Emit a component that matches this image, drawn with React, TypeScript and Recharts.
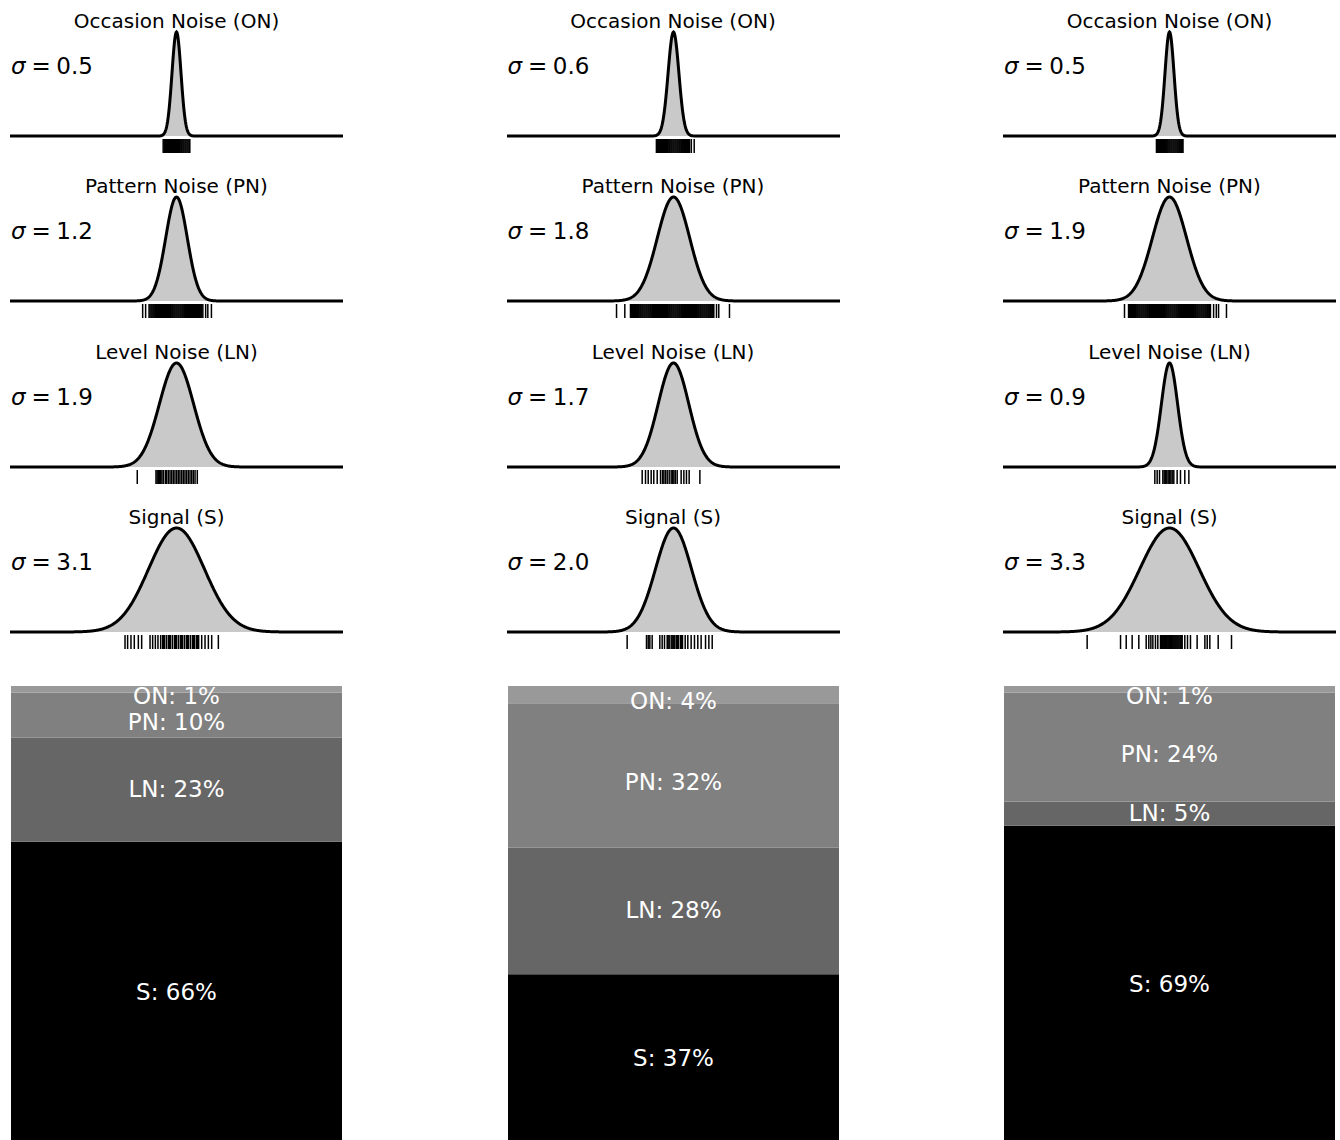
import React from "react";
import { ComposedChart, Area, Scatter, XAxis, YAxis, BarChart, Bar, LabelList } from "recharts";

// ---------- data ----------
const ROW_KEYS = ["ON", "PN", "LN", "S"];
const ROW_TITLES = ["Occasion Noise (ON)", "Pattern Noise (PN)", "Level Noise (LN)", "Signal (S)"];

const SIGMA_A = [0.5, 1.2, 1.9, 3.1];
const SIGMA_B = [0.6, 1.8, 1.7, 2.0];
const SIGMA_C = [0.5, 1.9, 0.9, 3.3];

// variance shares (%) in order ON, PN, LN, S
const SHARE_A = [1.4, 9.9, 22.8, 65.9];
const SHARE_B = [3.8, 31.6, 27.7, 36.9];
const SHARE_C = [1.4, 23.9, 5.3, 69.4];

// rug samples
const RUG_A_ON = [-1.48, -1.36, -1.25, -1.13, -1.02, -0.9, -0.79, -0.67, -0.56, -0.44, -0.33, -0.21, -0.1, 0.02, 0.13, 0.25, 0.36, 0.48, 0.59, 0.71, 0.82, 0.94, 1.05, 1.17, 1.28, 1.4, 1.48];
const RUG_A_PN = [-3.76, -3.43, -3.05, -2.94, -2.82, -2.71, -2.59, -2.48, -2.36, -2.25, -2.13, -2.02, -1.9, -1.79, -1.67, -1.56, -1.44, -1.33, -1.21, -1.1, -0.98, -0.87, -0.75, -0.64, -0.52, -0.41, -0.29, -0.18, -0.06, 0.05, 0.17, 0.28, 0.4, 0.51, 0.63, 0.74, 0.86, 0.97, 1.09, 1.2, 1.32, 1.43, 1.55, 1.66, 1.78, 1.89, 2.01, 2.12, 2.24, 2.35, 2.47, 2.58, 2.7, 2.81, 2.93, 3.24, 3.48, 3.88];
const RUG_A_LN = [-4.36, -2.28, -2.15, -2.02, -1.89, -1.76, -1.62, -1.46, -1.24, -1.1, -0.91, -0.72, -0.54, -0.36, -0.17, 0.02, 0.2, 0.38, 0.57, 0.75, 0.94, 1.12, 1.31, 1.5, 1.69, 1.87, 2.06, 2.31];
const RUG_A_S = [-5.72, -5.43, -5.06, -4.69, -4.24, -3.87, -2.94, -2.65, -2.35, -2.06, -1.76, -1.54, -1.45, -1.31, -1.09, -0.87, -0.8, -0.65, -0.43, -0.2, -0.1, 0.02, 0.24, 0.46, 0.55, 0.69, 0.91, 1.13, 1.2, 1.35, 1.57, 1.8, 1.9, 2.02, 2.24, 2.35, 2.46, 2.8, 3.17, 3.54, 3.91, 4.65];

const RUG_B_ON = [-1.9, -1.79, -1.67, -1.56, -1.44, -1.33, -1.21, -1.1, -0.98, -0.87, -0.75, -0.64, -0.52, -0.41, -0.29, -0.18, -0.06, 0.05, 0.17, 0.28, 0.4, 0.51, 0.63, 0.74, 0.86, 0.97, 1.09, 1.2, 1.32, 1.43, 1.55, 1.66, 1.78, 1.98, 2.3];
const RUG_B_PN = [-6.33, -5.41, -4.78, -4.66, -4.55, -4.43, -4.32, -4.2, -4.09, -3.97, -3.86, -3.74, -3.63, -3.51, -3.4, -3.28, -3.17, -3.05, -2.94, -2.82, -2.71, -2.59, -2.48, -2.36, -2.25, -2.13, -2.02, -1.9, -1.79, -1.67, -1.56, -1.44, -1.33, -1.21, -1.1, -0.98, -0.87, -0.75, -0.64, -0.52, -0.41, -0.29, -0.18, -0.06, 0.05, 0.17, 0.28, 0.4, 0.51, 0.63, 0.74, 0.86, 0.97, 1.09, 1.2, 1.32, 1.43, 1.55, 1.66, 1.78, 1.89, 2.01, 2.12, 2.24, 2.35, 2.47, 2.58, 2.7, 2.81, 2.93, 3.04, 3.16, 3.27, 3.39, 3.5, 3.62, 3.73, 3.85, 3.96, 4.08, 4.19, 4.31, 4.42, 4.48, 4.78, 5.03, 6.22];
const RUG_B_LN = [-3.48, -3.11, -2.81, -2.48, -2.19, -1.81, -1.44, -1.22, -1.07, -0.89, -0.7, -0.48, -0.26, -0.1, 0.04, 0.2, 0.41, 0.85, 1.15, 1.44, 1.74, 2.93];
const RUG_B_S = [-5.15, -3.0, -2.81, -2.63, -2.37, -1.52, -1.26, -1.0, -0.7, -0.6, -0.48, -0.26, -0.15, -0.04, 0.05, 0.15, 0.33, 0.45, 0.56, 0.78, 0.9, 1.0, 1.3, 1.59, 1.96, 2.33, 2.7, 3.07, 3.56, 3.93, 4.3];

const RUG_C_ON = [-1.45, -1.34, -1.22, -1.11, -0.99, -0.88, -0.76, -0.65, -0.53, -0.42, -0.3, -0.19, -0.07, 0.04, 0.16, 0.27, 0.39, 0.5, 0.62, 0.73, 0.85, 0.96, 1.08, 1.19, 1.31, 1.42, 1.5];
const RUG_C_PN = [-5.0, -4.55, -4.44, -4.32, -4.21, -4.09, -3.98, -3.86, -3.75, -3.63, -3.52, -3.4, -3.29, -3.17, -3.06, -2.94, -2.83, -2.71, -2.6, -2.48, -2.37, -2.25, -2.14, -2.02, -1.91, -1.79, -1.68, -1.56, -1.45, -1.33, -1.22, -1.1, -0.99, -0.87, -0.76, -0.64, -0.53, -0.41, -0.3, -0.18, -0.07, 0.05, 0.16, 0.28, 0.39, 0.51, 0.62, 0.74, 0.85, 0.97, 1.08, 1.2, 1.31, 1.43, 1.54, 1.66, 1.77, 1.89, 2.0, 2.12, 2.23, 2.35, 2.46, 2.58, 2.69, 2.81, 2.92, 3.04, 3.15, 3.27, 3.38, 3.5, 3.61, 3.73, 3.84, 3.96, 4.07, 4.19, 4.3, 4.42, 4.55, 4.9, 5.2, 5.45, 6.33];
const RUG_C_LN = [-1.63, -1.37, -1.11, -0.74, -0.59, -0.44, -0.3, -0.15, 0, 0.15, 0.3, 0.48, 0.85, 1.22, 1.7, 2.15];
const RUG_C_S = [-9.15, -5.44, -4.81, -4.15, -3.41, -2.59, -2.3, -2.07, -1.85, -1.56, -1.3, -1.0, -0.9, -0.81, -0.72, -0.63, -0.54, -0.44, -0.35, -0.26, -0.16, -0.07, 0.02, 0.11, 0.2, 0.3, 0.41, 0.52, 0.63, 0.74, 0.85, 0.96, 1.07, 1.19, 1.3, 1.41, 1.7, 2.0, 2.33, 3.07, 3.93, 4.19, 4.48, 5.41, 6.89];

const X_MIN = -18.5;
const X_MAX = 18.5;

const COLUMNS = [
  { sigmas: SIGMA_A, shares: SHARE_A, rugs: [RUG_A_ON, RUG_A_PN, RUG_A_LN, RUG_A_S] },
  { sigmas: SIGMA_B, shares: SHARE_B, rugs: [RUG_B_ON, RUG_B_PN, RUG_B_LN, RUG_B_S] },
  { sigmas: SIGMA_C, shares: SHARE_C, rugs: [RUG_C_ON, RUG_C_PN, RUG_C_LN, RUG_C_S] },
];

const BAR_COLORS: Record<string, string> = { ON: "#999999", PN: "#808080", LN: "#666666", S: "#000000" };

// ---------- layout ----------
const FONT = "'DejaVu Sans', sans-serif";
const COL_STEP = 496.5;
const PANEL_LEFT0 = 10;
const PANEL_W = 333;
const ROW_BASE0 = 136;
const ROW_STEP = 165.33;
const CURVE_H = 104;

function normalPdf(x: number, s: number) {
  return Math.exp(-0.5 * (x / s) * (x / s)) / (s * Math.sqrt(2 * Math.PI));
}

function RugTick(props: any) {
  const { cx, cy } = props;
  if (cx == null || cy == null) return null;
  return <line x1={cx} x2={cx} y1={cy + 3} y2={cy + 17} stroke="#000" strokeWidth={1.5} />;
}

function DensityPanel({ left, base, sigma, title, rug }: { left: number; base: number; sigma: number; title: string; rug: number[] }) {
  const data: { x: number; y: number }[] = [];
  for (let i = -370; i <= 370; i++) {
    const x = i / 20;
    data.push({ x, y: normalPdf(x, sigma) });
  }
  const pdfMax = 1 / (sigma * Math.sqrt(2 * Math.PI));
  const rugData = rug.map((v) => ({ x: v, y: 0 }));
  const top = base - CURVE_H - 6;
  return (
    <>
      <div
        style={{
          position: "absolute",
          left,
          width: PANEL_W,
          top: base - 125,
          fontFamily: FONT,
          fontSize: 20,
          lineHeight: "20px",
          textAlign: "center",
          color: "#000",
          whiteSpace: "nowrap",
        }}
      >
        {title}
      </div>
      <div
        style={{
          position: "absolute",
          left: left + 1,
          top: base - 81,
          fontFamily: FONT,
          fontSize: 23,
          lineHeight: "23px",
          color: "#000",
          whiteSpace: "nowrap",
        }}
      >
        <span style={{ fontStyle: "italic" }}>σ</span>
        <span style={{ margin: "0 5.5px 0 6px" }}>=</span>
        <span>{sigma.toFixed(1)}</span>
      </div>
      <div style={{ position: "absolute", left, top }}>
        <ComposedChart width={PANEL_W} height={CURVE_H + 26} data={data} margin={{ top: 6, right: 0, bottom: 20, left: 0 }}>
          <XAxis type="number" dataKey="x" domain={[X_MIN, X_MAX]} hide />
          <YAxis type="number" dataKey="y" domain={[0, pdfMax]} hide />
          <Area
            type="linear"
            dataKey="y"
            stroke="#000"
            strokeWidth={3}
            fill="#c9c9c9"
            fillOpacity={1}
            dot={false}
            activeDot={false}
            isAnimationActive={false}
          />
          <Scatter data={rugData} dataKey="y" shape={RugTick} isAnimationActive={false} />
        </ComposedChart>
      </div>
    </>
  );
}

function makeLabel(name: string, share: number, dy: number) {
  return (props: any) => {
    const { x, y, width, height } = props;
    return (
      <text
        x={Number(x) + Number(width) / 2}
        y={Number(y) + Number(height) / 2 + dy}
        fill="#ffffff"
        fontSize={23}
        fontFamily={FONT}
        textAnchor="middle"
        dominantBaseline="central"
      >
        {`${name}: ${Math.round(share)}%`}
      </text>
    );
  };
}

function ShareBar({ left, shares }: { left: number; shares: number[] }) {
  const row: Record<string, any> = { name: "share" };
  ROW_KEYS.forEach((k, i) => (row[k] = shares[i]));
  const order = ["S", "LN", "PN", "ON"];
  const dys: Record<string, number> = { ON: 6.5, PN: 6.5, LN: -1, S: -0.5 };
  return (
    <div style={{ position: "absolute", left, top: 686 }}>
      <BarChart width={331} height={457} data={[row]} margin={{ top: 0, right: 0, bottom: 0, left: 0 }} barCategoryGap={0} barGap={0}>
        <XAxis dataKey="name" hide />
        <YAxis type="number" domain={[0, 100]} hide />
        {order.map((k) => (
          <Bar key={k} dataKey={k} stackId="a" fill={BAR_COLORS[k]} isAnimationActive={false}>
            <LabelList content={makeLabel(k, shares[ROW_KEYS.indexOf(k)], dys[k])} />
          </Bar>
        ))}
      </BarChart>
    </div>
  );
}

export default function App() {
  return (
    <div style={{ position: "absolute", left: 0, top: 0, width: 1340, height: 1140, overflow: "hidden", background: "#fff" }}>
      {COLUMNS.map((col, c) => (
        <React.Fragment key={c}>
          {ROW_KEYS.map((k, r) => (
            <DensityPanel
              key={k}
              left={PANEL_LEFT0 + c * COL_STEP}
              base={ROW_BASE0 + r * ROW_STEP}
              sigma={col.sigmas[r]}
              title={ROW_TITLES[r]}
              rug={col.rugs[r]}
            />
          ))}
          <ShareBar left={11 + c * COL_STEP} shares={col.shares} />
        </React.Fragment>
      ))}
    </div>
  );
}
